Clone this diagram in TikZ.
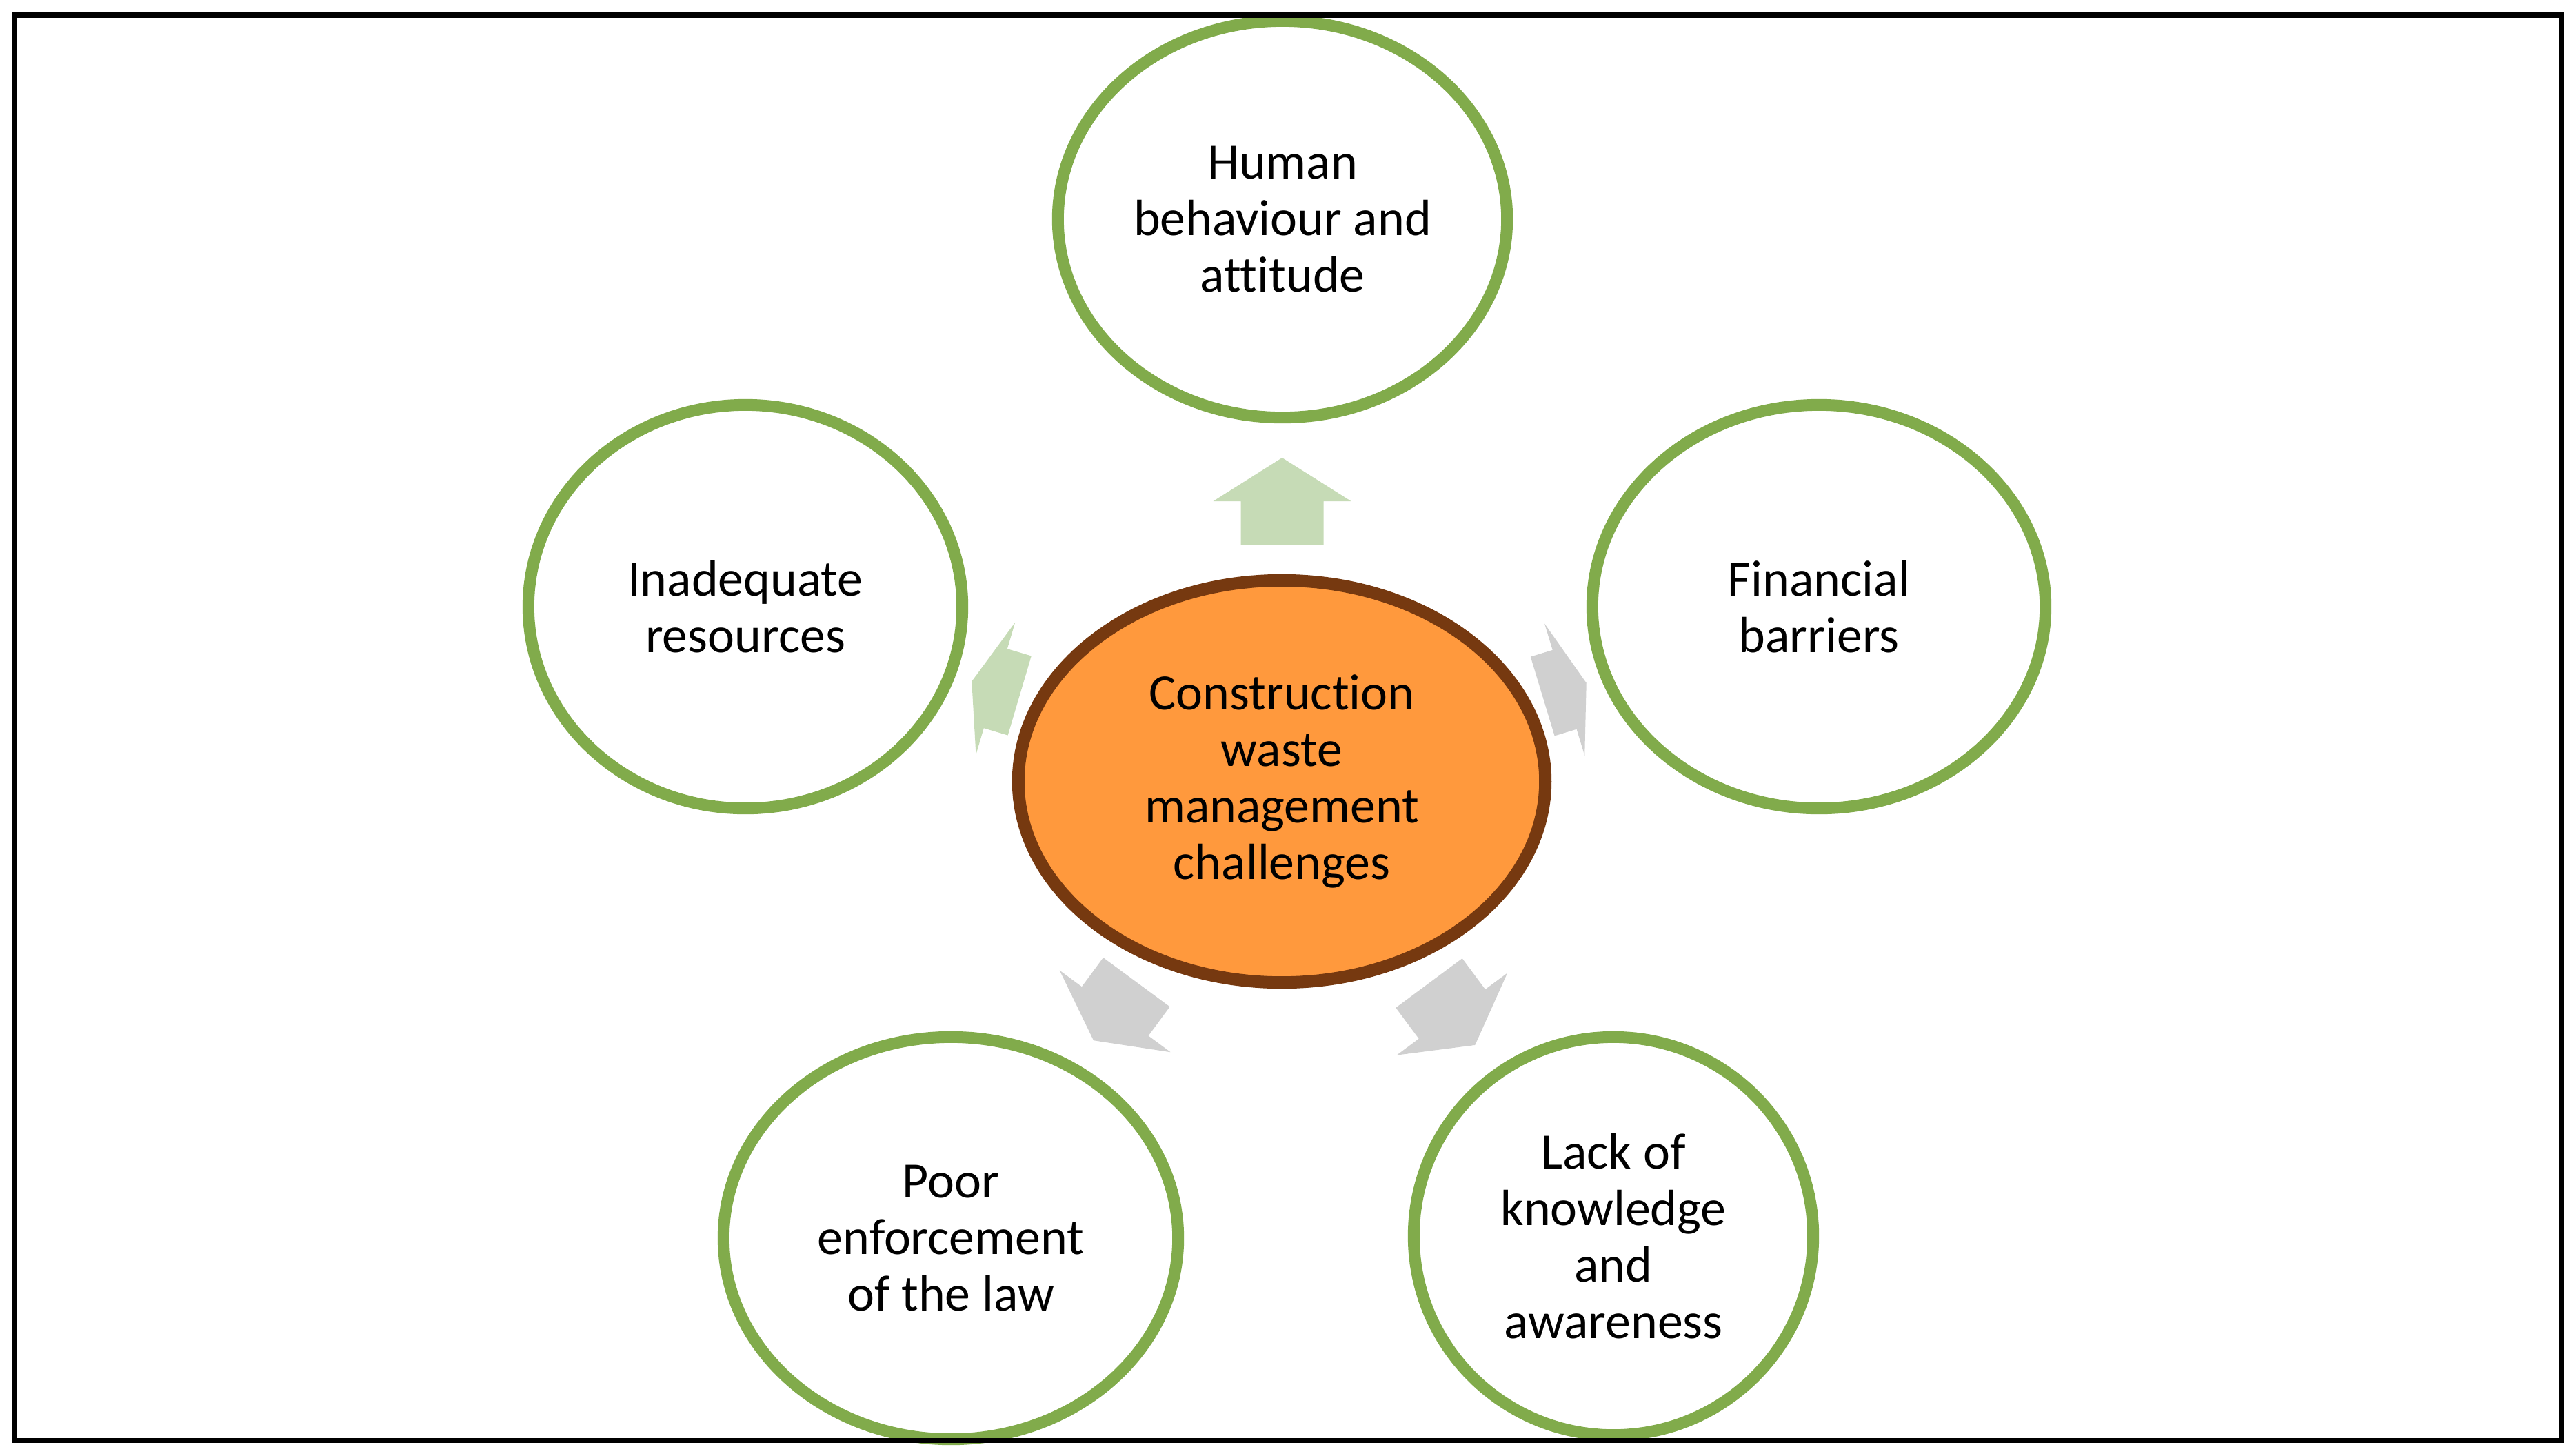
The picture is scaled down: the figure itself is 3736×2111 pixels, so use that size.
\documentclass[tikz,border=0pt]{standalone}
\usepackage{fontspec}
\setmainfont{Carlito}[Ligatures=NoCommon]
\usetikzlibrary{shapes.geometric}
\definecolor{ogreen}{RGB}{129,171,75}
\definecolor{cbrown}{RGB}{118,57,16}
\definecolor{corange}{RGB}{255,153,61}
\definecolor{agreen}{RGB}{198,219,182}
\definecolor{agrey}{RGB}{208,208,208}
\tikzset{
  outerellipse/.style={ellipse, draw=ogreen, line width=4.84pt, fill=white,
    align=center, inner sep=0pt, font=\fontsize{21}{23.3}\selectfont},
  coreellipse/.style={ellipse, draw=cbrown, fill=corange, line width=5.12pt,
    align=center, inner sep=0pt, font=\fontsize{21}{23.3}\selectfont},
  pics/blockarrow/.style n args={3}{code={
    \fill[#3] (0,-60) -- (#1-#2,-60) -- (#1-#2,-100) -- (#1,0) -- (#1-#2,100)
      -- (#1-#2,60) -- (0,60) -- cycle;
  }}
}
\begin{document}
\begin{tikzpicture}[x=0.01cm,y=-0.01cm]
\useasboundingbox (0,0) rectangle (3736,2111);
% outer ellipses
\node[outerellipse, minimum width=6.51cm, minimum height=5.75cm] (top) at (1860,318) {Human\\behaviour and\\attitude};
\node[outerellipse, minimum width=6.29cm, minimum height=5.85cm] (left) at (1081,880) {Inadequate\\resources};
\node[outerellipse, minimum width=6.57cm, minimum height=5.85cm] (right) at (2638,880) {Financial\\barriers};
\node[outerellipse, minimum width=6.59cm, minimum height=5.83cm] (botleft) at (1379,1796) {Poor\\enforcement\\of the law};
\node[outerellipse, minimum width=5.79cm, minimum height=5.77cm] (botright) at (2340,1793) {Lack of\\knowledge\\and\\awareness};
% core
\node[coreellipse, minimum width=7.64cm, minimum height=5.83cm] (core) at (1859,1133.5) {Construction\\waste\\management\\challenges};
% block arrows from core towards outer ellipses
\pic[rotate=90] (a1) at (1859.5,790) {blockarrow={126}{63}{agreen}};
\pic[rotate=163.5] (a2) at (1478.7,1009) {blockarrow={72.4}{36}{agreen}};
\pic[rotate=16.9] (a3) at (2237.2,1010) {blockarrow={66.4}{33}{agrey}};
\pic[rotate=233.6] (a4) at (1648.3,1424.7) {blockarrow={105}{52.6}{agrey}};
\pic[rotate=-53.4] (a5) at (2072.5,1426) {blockarrow={112}{56}{agrey}};
% frame
\draw[line width=2pt, black] (20.5,22) rectangle (3714.5,2089.5);
\end{tikzpicture}
\end{document}
